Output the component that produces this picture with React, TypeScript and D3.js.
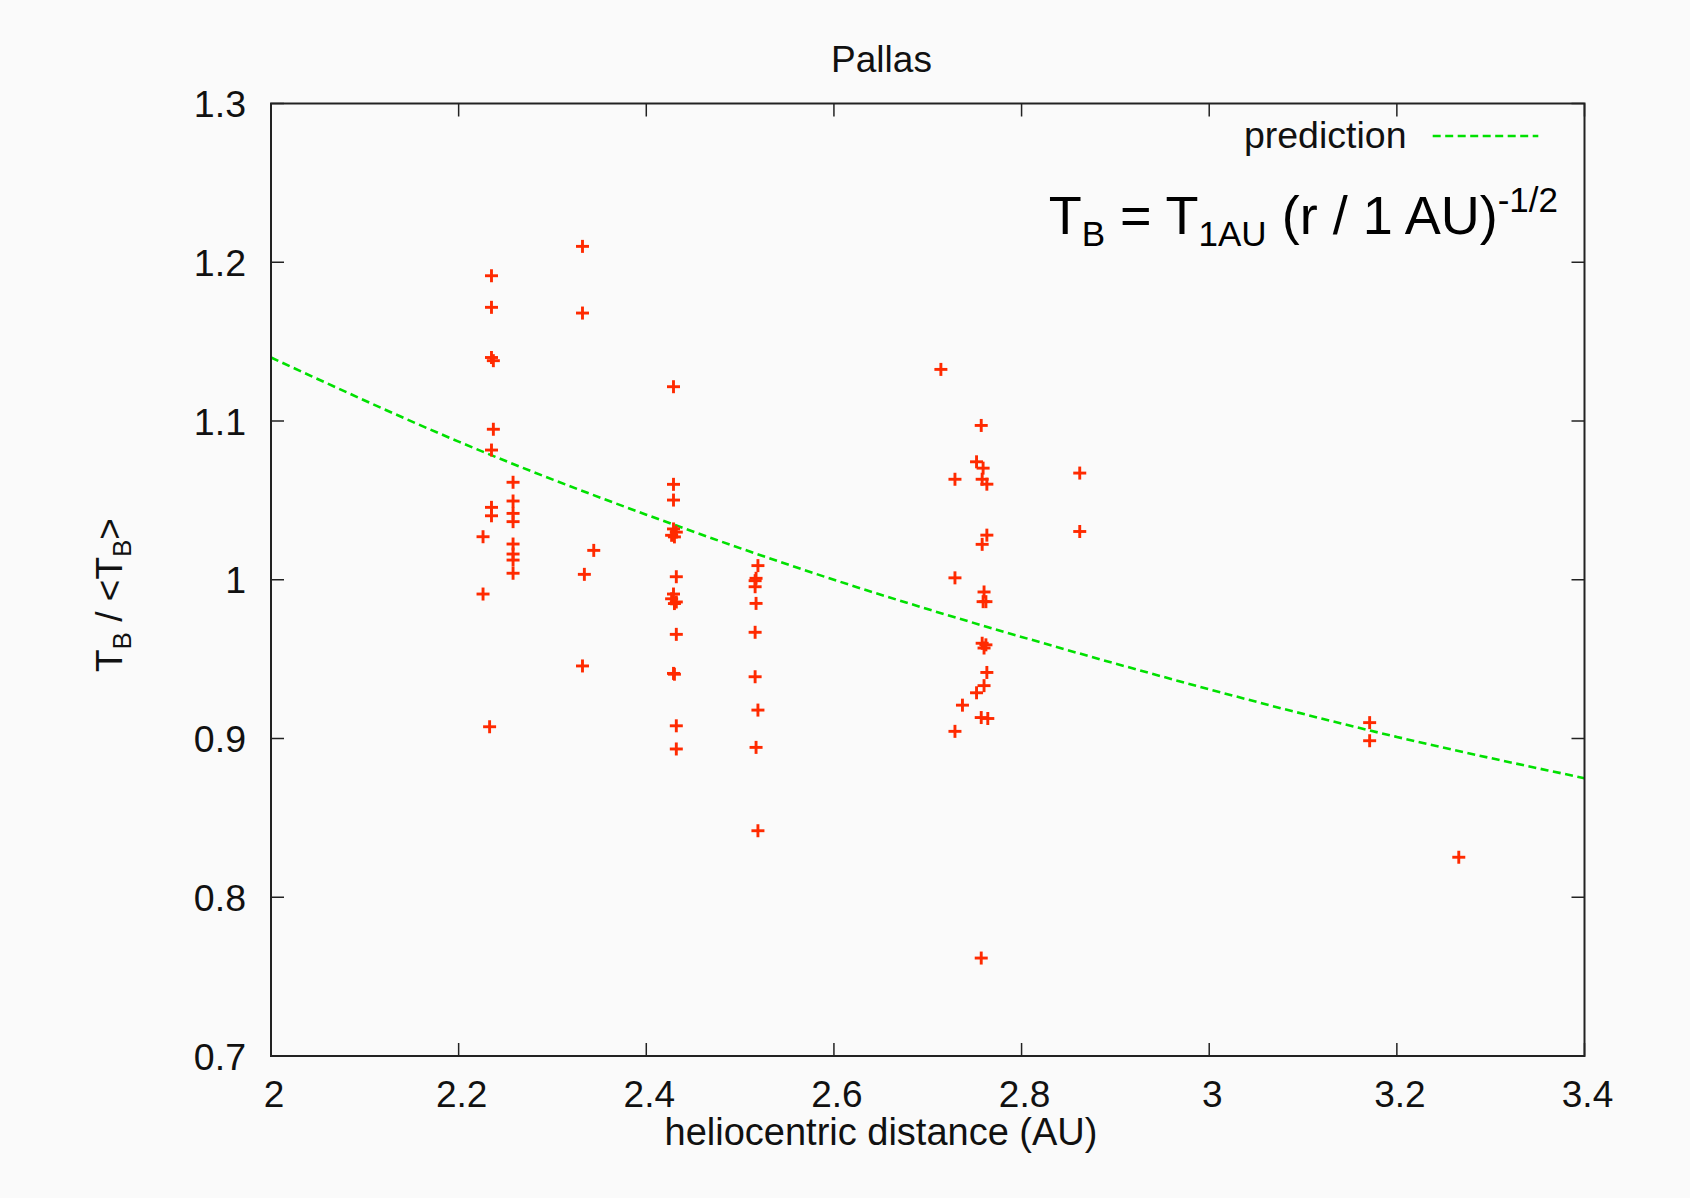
import React from "react";
import * as d3 from "d3";

const xTicks = [2, 2.2, 2.4, 2.6, 2.8, 3, 3.2, 3.4];
const yTicks = [0.7, 0.8, 0.9, 1, 1.1, 1.2, 1.3];

// observed points: heliocentric distance (AU) and normalized brightness temperature
const obsR = [
  2.226, 2.226, 2.233,
  2.235, 2.235, 2.235, 2.235, 2.235, 2.235,
  2.237, 2.237,
  2.258, 2.258, 2.258, 2.258, 2.258, 2.258, 2.258, 2.258,
  2.332, 2.332, 2.332, 2.334, 2.344,
  2.429, 2.429, 2.429, 2.429, 2.432, 2.427, 2.430, 2.432, 2.429, 2.427, 2.432, 2.430, 2.432, 2.429, 2.430, 2.432, 2.432,
  2.519, 2.517, 2.516, 2.516, 2.517, 2.516, 2.516, 2.519, 2.517, 2.519,
  2.714,
  2.729, 2.729, 2.729, 2.737, 2.752, 2.752,
  2.757, 2.757, 2.757, 2.758, 2.758, 2.758, 2.759, 2.759, 2.760, 2.760, 2.760, 2.762, 2.762,
  2.763, 2.763, 2.763, 2.764,
  2.862, 2.862,
  3.171, 3.171, 3.266,
];
const obsT = [
  1.0271, 0.991, 0.9074,
  1.1915, 1.1716, 1.140, 1.0817, 1.0456, 1.0403,
  1.138, 1.0948,
  1.0614, 1.0496, 1.0418, 1.0366, 1.0225, 1.0162, 1.0124, 1.0041,
  1.210, 1.168, 0.9457, 1.0034, 1.0185,
  1.1216, 1.0601, 1.0502, 1.032, 1.030, 1.028, 1.027, 1.0019, 0.991, 0.988, 0.986, 0.985, 0.9656, 0.941, 0.9405, 0.908, 0.8934,
  1.0089, 1.0009, 0.9994, 0.9956, 0.9851, 0.9669, 0.9389, 0.9179, 0.8944, 0.8419,
  1.1325,
  1.0633, 1.0012, 0.9045, 0.921, 1.0743, 0.9288,
  1.0972, 0.9132, 0.7617, 1.0633, 1.0223, 0.960, 1.0703, 0.9862, 0.9923, 0.9333, 0.957, 0.9862, 0.959,
  1.0602, 1.0281, 0.9416, 0.9126,
  1.0672, 1.0304,
  0.910, 0.8986, 0.8252,
];

// prediction curve read at the x ticks
const predR = [2, 2.2, 2.4, 2.6, 2.8, 3.0, 3.2, 3.4];
const predT = [1.140, 1.087, 1.041, 1.000, 0.964, 0.931, 0.901, 0.875];

const W = 1690;
const H = 1198;
const left = 271;
const right = 1584.5;
const top = 103.5;
const bottom = 1056;

const FONT = "'Liberation Sans', Arial, Helvetica, sans-serif";

export default function App() {
  const x = d3.scaleLinear().domain([2, 3.4]).range([left, right]);
  const y = d3.scaleLinear().domain([0.7, 1.3]).range([bottom, top]);
  const line = d3
    .line<number>()
    .x((_, i) => x(predR[i]))
    .y((d) => y(d))
    .curve(d3.curveNatural);
  const tickLen = 13;
  const cs = 6.5;
  return (
    <svg
      width={W}
      height={H}
      style={{ position: "absolute", left: 0, top: 0, background: "#fafafa" }}
      fontFamily={FONT}
    >
      <rect x={0} y={0} width={W} height={H} fill="#fafafa" />
      <defs>
        <clipPath id="plotclip">
          <rect x={left} y={top} width={right - left} height={bottom - top} />
        </clipPath>
      </defs>
      {/* ticks */}
      {xTicks.map((t) => (
        <g key={"xt" + t}>
          <line x1={x(t)} x2={x(t)} y1={bottom} y2={bottom - tickLen} stroke="#222" strokeWidth={1.5} />
          <line x1={x(t)} x2={x(t)} y1={top} y2={top + tickLen} stroke="#222" strokeWidth={1.5} />
          <text x={x(t) + 3} y={1107} fontSize={37} textAnchor="middle" fill="#111">
            {String(t)}
          </text>
        </g>
      ))}
      {yTicks.map((t) => (
        <g key={"yt" + t}>
          <line x1={left} x2={left + tickLen} y1={y(t)} y2={y(t)} stroke="#222" strokeWidth={1.5} />
          <line x1={right} x2={right - tickLen} y1={y(t)} y2={y(t)} stroke="#222" strokeWidth={1.5} />
          <text x={246} y={y(t) + 13.5} fontSize={37.5} textAnchor="end" fill="#111">
            {String(t)}
          </text>
        </g>
      ))}
      {/* prediction */}
      <path
        d={line(predT) || ""}
        fill="none"
        stroke="#00e000"
        strokeWidth={2.6}
        strokeDasharray="8,4.5"
        clipPath="url(#plotclip)"
      />
      {/* points */}
      {obsR.map((r, i) => (
        <g key={"p" + i} stroke="#ff2a00" strokeWidth={2.9}>
          <line x1={x(r) - cs} x2={x(r) + cs} y1={y(obsT[i])} y2={y(obsT[i])} />
          <line x1={x(r)} x2={x(r)} y1={y(obsT[i]) - cs} y2={y(obsT[i]) + cs} />
        </g>
      ))}
      {/* frame */}
      <rect x={left} y={top} width={right - left} height={bottom - top} fill="none" stroke="#222" strokeWidth={2} />
      {/* title */}
      <text x={881.5} y={71.5} fontSize={37} textAnchor="middle" fill="#111">
        Pallas
      </text>
      {/* x label */}
      <text x={881} y={1145} fontSize={38} textAnchor="middle" fill="#111">
        heliocentric distance (AU)
      </text>
      {/* y label */}
      <text transform="translate(121.5,595) rotate(-90)" fontSize={37} textAnchor="middle" fill="#111">
        <tspan>T</tspan>
        <tspan fontSize={26} dy={9}>B</tspan>
        <tspan dy={-9}> / &lt;T</tspan>
        <tspan fontSize={26} dy={9}>B</tspan>
        <tspan dy={-9}>&gt;</tspan>
      </text>
      {/* legend */}
      <text x={1406.5} y={148.3} fontSize={37.5} textAnchor="end" fill="#111">
        prediction
      </text>
      <line x1={1432.7} x2={1538.3} y1={136} y2={136} stroke="#00e000" strokeWidth={2.6} strokeDasharray="8,4.5" />
      {/* formula */}
      <text x={1558} y={234} fontSize={54} textAnchor="end" fill="#000">
        <tspan>T</tspan>
        <tspan fontSize={35} dy={12}>B</tspan>
        <tspan dy={-12}> = T</tspan>
        <tspan fontSize={35} dy={12}>1AU</tspan>
        <tspan dy={-12}> (r / 1 AU)</tspan>
        <tspan fontSize={35} dy={-22}>-1/2</tspan>
      </text>
    </svg>
  );
}
